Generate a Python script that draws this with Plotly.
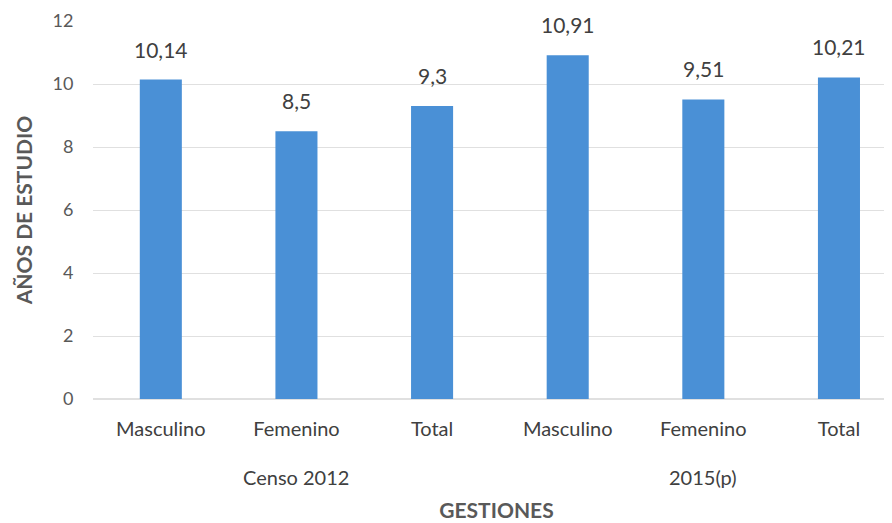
import plotly.graph_objects as go

# data
gestiones = ["Censo 2012", "2015(p)"]
sexo = ["Masculino", "Femenino", "Total", "Masculino", "Femenino", "Total"]
grupo = [0, 0, 0, 1, 1, 1]
anios = [10.14, 8.5, 9.3, 10.91, 9.51, 10.21]
y_ticks = [0, 2, 4, 6, 8, 10, 12]

pos = list(range(len(sexo)))

fig = go.Figure(go.Bar(
    x=pos,
    y=anios,
    marker=dict(color="#4a90d6", line=dict(width=0)),
    width=0.31,
    hovertext=[gestiones[g] + " - " + s for g, s in zip(grupo, sexo)],
))

# data labels above bars
for p, v in zip(pos, anios):
    fig.add_annotation(
        x=p, y=v, text=("%g" % v).replace(".", ","),
        showarrow=False, yanchor="bottom", yshift=16,
        font=dict(size=21, color="#404040"),
    )

# group labels (second level of the category axis)
for g, name in enumerate(gestiones):
    centre = sum(p for p, gg in zip(pos, grupo) if gg == g) / grupo.count(g)
    fig.add_annotation(
        x=centre, xref="x", y=0, yref="paper", yanchor="middle", yshift=-78,
        text=name, showarrow=False, font=dict(size=20, color="#404040"),
    )

fig.update_layout(
    width=892, height=523,
    margin=dict(l=85, r=0, t=13, b=132),
    plot_bgcolor="white", paper_bgcolor="white",
    font=dict(family="Lato", size=18, color="#404040"),
    showlegend=False,
)
fig.update_xaxes(
    range=[-0.5, 5.45],
    tickvals=pos, ticktext=sexo,
    showgrid=False, showline=False, zeroline=False,
    ticks="", ticklabelstandoff=16,
    tickfont=dict(size=20, color="#404040"),
    automargin=True,
    title=dict(text="<b>GESTIONES</b>", font=dict(size=21, color="#595959"), standoff=64),
)
fig.update_yaxes(
    range=[0, 12],
    tickvals=y_ticks,
    showgrid=True, gridcolor="#e0e0e0", gridwidth=1,
    zeroline=True, zerolinecolor="#e0e0e0",
    ticks="outside", ticklen=15, tickcolor="rgba(0,0,0,0)",
    tickfont=dict(size=18, color="#595959"),
    automargin=True,
    title=dict(text="<b>AÑOS DE ESTUDIO</b>", font=dict(size=21, color="#595959"), standoff=14),
)

fig.write_html("out.html")
